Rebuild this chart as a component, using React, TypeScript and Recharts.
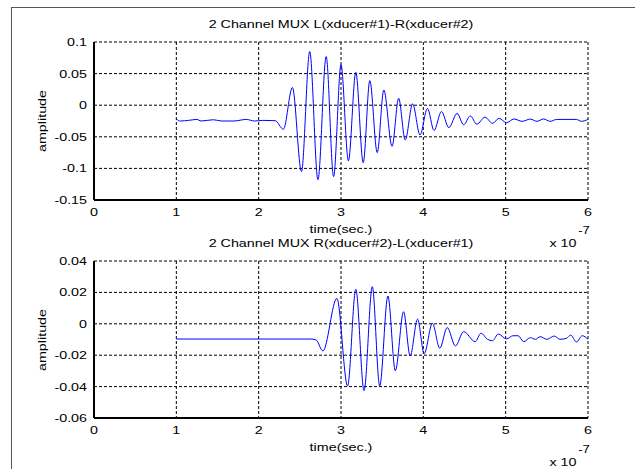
import React from 'react';
import { LineChart, Line, XAxis, YAxis, CartesianGrid } from 'recharts';

// time in units of 1e-7 s
const xTicks = [0, 1, 2, 3, 4, 5, 6];

const t1 = [1.0, 1.05, 1.15, 1.25, 1.3, 1.45, 1.55, 1.7, 1.85, 1.95, 2.05, 2.2, 2.3, 2.41, 2.52, 2.62, 2.72, 2.82, 2.91, 3.0, 3.09, 3.18, 3.27, 3.35, 3.44, 3.52, 3.62, 3.7, 3.78, 3.87, 3.96, 4.05, 4.13, 4.22, 4.31, 4.41, 4.49, 4.57, 4.65, 4.75, 4.84, 4.92, 5.01, 5.1, 5.2, 5.3, 5.38, 5.46, 5.54, 5.62, 5.86, 5.92, 6.0];
const amp1 = [-0.022, -0.025, -0.024, -0.0225, -0.025, -0.023, -0.025, -0.025, -0.0225, -0.025, -0.024, -0.0245, -0.038, 0.028, -0.105, 0.085, -0.118, 0.077, -0.113, 0.064, -0.088, 0.052, -0.091, 0.039, -0.075, 0.024, -0.065, 0.011, -0.055, 0.002, -0.047, -0.005, -0.04, -0.01, -0.0355, -0.013, -0.031, -0.017, -0.03, -0.019, -0.0287, -0.0208, -0.0277, -0.0218, -0.0255, -0.022, -0.0255, -0.0218, -0.0255, -0.0225, -0.0225, -0.0255, -0.0225];
const yTicks1 = [-0.15, -0.1, -0.05, 0, 0.05, 0.1];

const t2 = [1.0, 2.645, 2.7, 2.78, 2.95, 3.08, 3.18, 3.28, 3.38, 3.47, 3.57, 3.66, 3.76, 3.84, 3.93, 4.01, 4.11, 4.2, 4.29, 4.39, 4.49, 4.63, 4.7, 4.78, 4.84, 4.91, 5.01, 5.09, 5.15, 5.22, 5.3, 5.36, 5.42, 5.5, 5.59, 5.66, 5.74, 5.79, 5.86, 5.93, 6.0];
const amp2 = [-0.0097, -0.0097, -0.0104, -0.0173, 0.0162, -0.0396, 0.022, -0.0426, 0.0236, -0.0396, 0.0177, -0.0299, 0.0077, -0.0205, 0.003, -0.019, 0.0003, -0.0156, -0.0024, -0.0141, -0.005, -0.0114, -0.006, -0.0099, -0.0108, -0.0065, -0.0096, -0.0076, -0.0076, -0.0114, -0.0088, -0.0099, -0.0082, -0.0099, -0.0078, -0.0099, -0.0092, -0.0072, -0.0116, -0.0076, -0.0099];
const yTicks2 = [-0.06, -0.04, -0.02, 0, 0.02, 0.04];

const data1 = t1.map((t, i) => ({ t, v: amp1[i] }));
const data2 = t2.map((t, i) => ({ t, v: amp2[i] }));

const FONT = '"Liberation Sans", Arial, sans-serif';
const SX = 1.3; // text in the reference is stretched horizontally
const BOX = { stroke: '#000', strokeWidth: 2 };

const xTick = (p: any) => (
  <text
    x={0}
    y={0}
    transform={`translate(${p.x},${p.y}) scale(${SX},1)`}
    textAnchor="middle"
    dy="0.71em"
    fontSize={11}
    fontFamily={FONT}
    fill="#000">
    {p.payload.value}
  </text>
);

const yTick = (p: any) => (
  <text
    x={0}
    y={0}
    transform={`translate(${p.x},${p.y}) scale(${SX},1)`}
    textAnchor="end"
    dy="0.355em"
    fontSize={11}
    fontFamily={FONT}
    fill="#000">
    {p.payload.value}
  </text>
);

function Txt({ x, y, children, rotate = false, size = 11 }: any) {
  return (
    <div
      style={{
        position: 'absolute',
        left: x,
        top: y,
        transform: `translate(-50%,-50%)${rotate ? ' rotate(-90deg)' : ''} scaleX(${SX})`,
        whiteSpace: 'nowrap',
        fontFamily: FONT,
        fontSize: size,
        lineHeight: 1,
        color: '#000'
      }}>
      {children}
    </div>
  );
}

function Panel({ data, yTicks, top, height, margin }: any) {
  const yDom = [yTicks[0], yTicks[yTicks.length - 1]];
  return (
    <div style={{ position: 'absolute', left: 0, top, width: 635, height }}>
      <LineChart width={635} height={height} data={data} margin={margin}>
        <CartesianGrid stroke="#000" strokeDasharray="3 2" strokeWidth={1} />
        <XAxis
          dataKey="t"
          type="number"
          domain={[0, 6]}
          ticks={xTicks}
          height={30}
          axisLine={BOX}
          tickLine={false}
          tick={xTick}
          interval={0}
          allowDataOverflow />
        <XAxis
          xAxisId="top"
          orientation="top"
          dataKey="t"
          type="number"
          domain={[0, 6]}
          height={0}
          axisLine={BOX}
          tickLine={false}
          tick={false} />
        <YAxis
          type="number"
          domain={yDom}
          ticks={yTicks}
          width={60}
          axisLine={BOX}
          tickLine={false}
          tickMargin={1}
          tick={yTick}
          interval={0}
          allowDataOverflow />
        <YAxis
          yAxisId="right"
          orientation="right"
          type="number"
          domain={yDom}
          width={0}
          axisLine={BOX}
          tickLine={false}
          tick={false} />
        <Line
          dataKey="v"
          type="monotone"
          stroke="#0000ff"
          strokeWidth={1}
          dot={false}
          isAnimationActive={false} />
      </LineChart>
    </div>
  );
}

export default function App() {
  return (
    <div style={{ position: 'absolute', left: 0, top: 0, width: 635, height: 469, overflow: 'hidden', background: '#fff' }}>
      <div style={{ position: 'absolute', left: 11, top: 7, width: 640, height: 480, borderTop: '1px solid #555', borderLeft: '1px solid #555' }} />
      <Panel data={data1} yTicks={yTicks1} top={0} height={235} margin={{ top: 42, right: 47, bottom: 5, left: 34 }} />
      <Panel data={data2} yTicks={yTicks2} top={235} height={234} margin={{ top: 26, right: 47, bottom: 21, left: 34 }} />

      <Txt x={341} y={24}>2 Channel MUX L(xducer#1)-R(xducer#2)</Txt>
      <Txt x={42} y={121} rotate>amplitude</Txt>
      <Txt x={341} y={229}>time(sec.)</Txt>
      <Txt x={563} y={243}>x 10</Txt>
      <Txt x={584} y={231} size={10}>-7</Txt>

      <Txt x={341} y={243}>2 Channel MUX R(xducer#2)-L(xducer#1)</Txt>
      <Txt x={42} y={340} rotate>amplitude</Txt>
      <Txt x={341} y={447}>time(sec.)</Txt>
      <Txt x={563} y={462}>x 10</Txt>
      <Txt x={584} y={450} size={10}>-7</Txt>
    </div>
  );
}
